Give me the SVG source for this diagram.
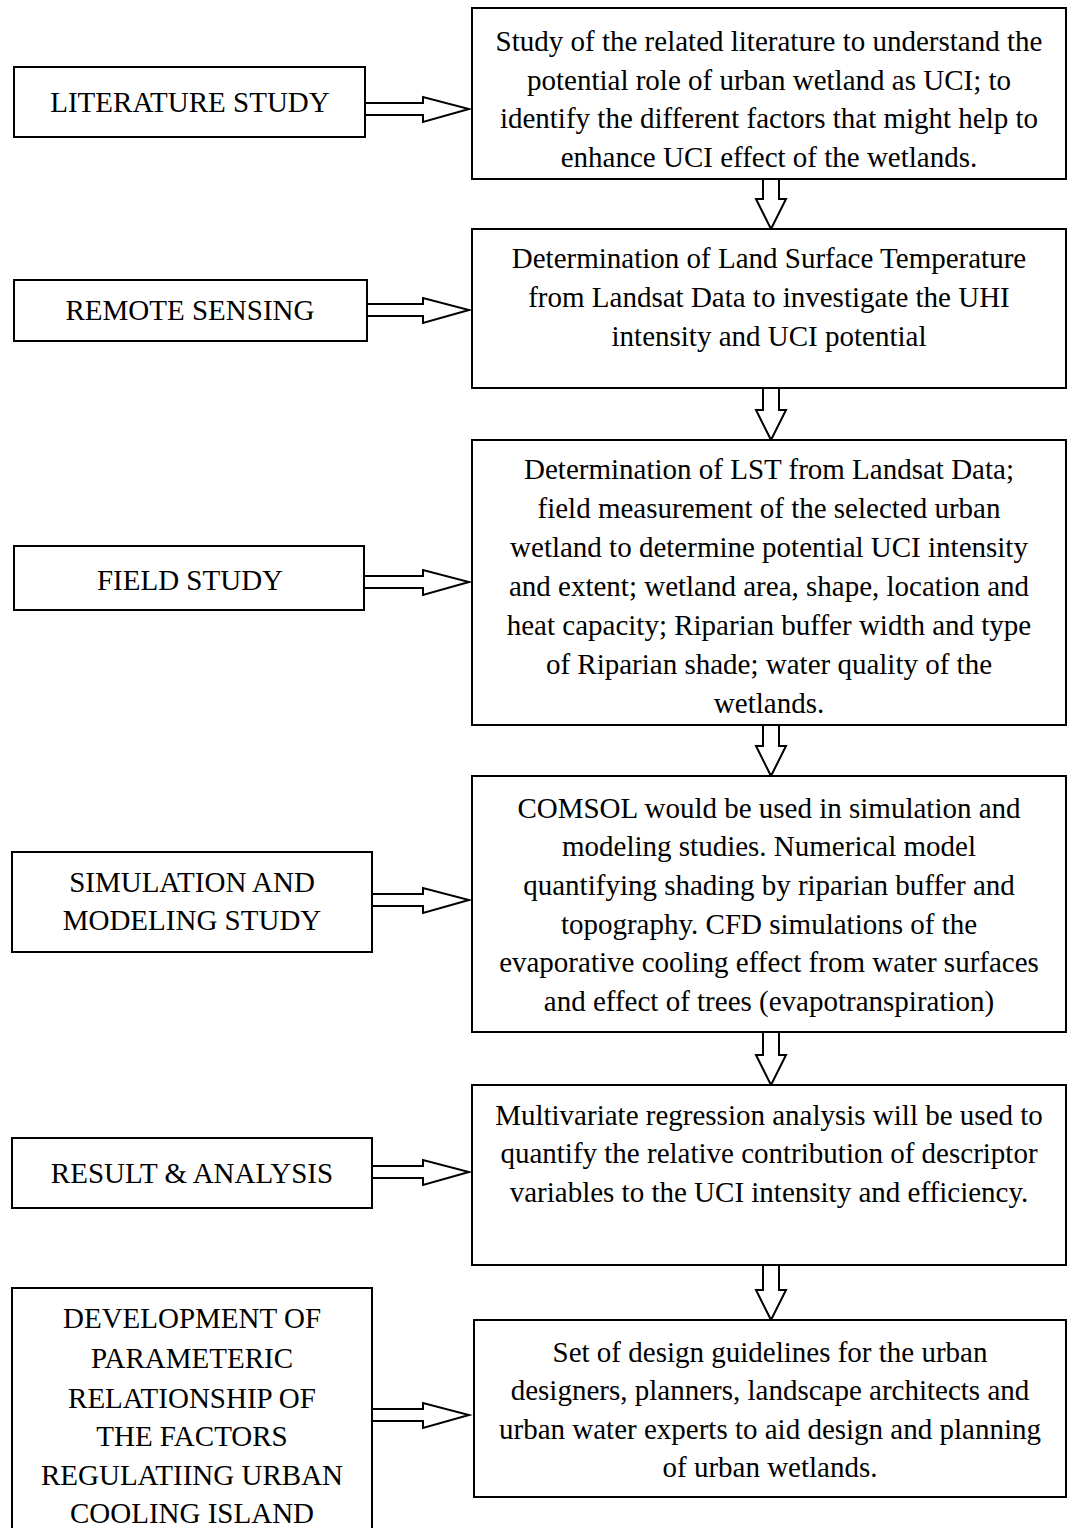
<svg xmlns="http://www.w3.org/2000/svg" width="1068" height="1528" viewBox="0 0 1068 1528">
<style>
.box{fill:#fff;stroke:#000;stroke-width:2}
.arr{fill:#fff;stroke:#000;stroke-width:2;stroke-linejoin:miter}
text{font-family:"Liberation Serif","Times New Roman",serif;font-size:29px;fill:#000;text-anchor:middle}
</style>
<rect width="1068" height="1528" fill="#fff"/>
<g id="connectors">
<polygon class="arr" points="365,103 423,103 423,97 469,109 423,122 423,115 365,115"/>
<polygon class="arr" points="367,304 423,304 423,298 469,310 423,323 423,316 367,316"/>
<polygon class="arr" points="364,576 423,576 423,570 469,582 423,595 423,588 364,588"/>
<polygon class="arr" points="372,894 423,894 423,888 469,900 423,913 423,906 372,906"/>
<polygon class="arr" points="372,1166 423,1166 423,1160 469,1172 423,1185 423,1178 372,1178"/>
<polygon class="arr" points="372,1409 423,1409 423,1403 469,1415 423,1428 423,1421 372,1421"/>
<polygon class="arr" points="763,179 763,199 756,199 771,229 786,199 779,199 779,179"/>
<polygon class="arr" points="763,388 763,410 756,410 771,440 786,410 779,410 779,388"/>
<polygon class="arr" points="763,725 763,746 756,746 771,776 786,746 779,746 779,725"/>
<polygon class="arr" points="763,1032 763,1055 756,1055 771,1085 786,1055 779,1055 779,1032"/>
<polygon class="arr" points="763,1265 763,1290 756,1290 771,1320 786,1290 779,1290 779,1265"/>
</g>
<g id="n1">
<rect class="box" x="472" y="8" width="594" height="171"/>
<text x="769" y="51">Study of the related literature to understand the</text>
<text x="769" y="90">potential role of urban wetland as UCI; to</text>
<text x="769" y="128">identify the different factors that might help to</text>
<text x="769" y="167">enhance UCI effect of the wetlands.</text>
</g>
<g id="l1">
<rect class="box" x="14" y="67" width="351" height="70"/>
<text x="190" y="112">LITERATURE STUDY</text>
</g>
<g id="n2">
<rect class="box" x="472" y="229" width="594" height="159"/>
<text x="769" y="268">Determination of Land Surface Temperature</text>
<text x="769" y="307">from Landsat Data to investigate the UHI</text>
<text x="769" y="346">intensity and UCI potential</text>
</g>
<g id="l2">
<rect class="box" x="14" y="280" width="353" height="61"/>
<text x="190" y="320">REMOTE SENSING</text>
</g>
<g id="n3">
<rect class="box" x="472" y="440" width="594" height="285"/>
<text x="769" y="479">Determination of LST from Landsat Data;</text>
<text x="769" y="518">field measurement of the selected urban</text>
<text x="769" y="557">wetland to determine potential UCI intensity</text>
<text x="769" y="596">and extent; wetland area, shape, location and</text>
<text x="769" y="635">heat capacity; Riparian buffer width and type</text>
<text x="769" y="674">of Riparian shade; water quality of the</text>
<text x="769" y="713">wetlands.</text>
</g>
<g id="l3">
<rect class="box" x="14" y="546" width="350" height="64"/>
<text x="190" y="590">FIELD STUDY</text>
</g>
<g id="n4">
<rect class="box" x="472" y="776" width="594" height="256"/>
<text x="769" y="818">COMSOL would be used in simulation and</text>
<text x="769" y="856">modeling studies. Numerical model</text>
<text x="769" y="895">quantifying shading by riparian buffer and</text>
<text x="769" y="934">topography. CFD simulations of the</text>
<text x="769" y="972">evaporative cooling effect from water surfaces</text>
<text x="769" y="1011">and effect of trees (evapotranspiration)</text>
</g>
<g id="l4">
<rect class="box" x="12" y="852" width="360" height="100"/>
<text x="192" y="892">SIMULATION AND</text>
<text x="192" y="930">MODELING STUDY</text>
</g>
<g id="n5">
<rect class="box" x="472" y="1085" width="594" height="180"/>
<text x="769" y="1125">Multivariate regression analysis will be used to</text>
<text x="769" y="1163">quantify the relative contribution of descriptor</text>
<text x="769" y="1202">variables to the UCI intensity and efficiency.</text>
</g>
<g id="l5">
<rect class="box" x="12" y="1138" width="360" height="70"/>
<text x="192" y="1183">RESULT &amp; ANALYSIS</text>
</g>
<g id="n6">
<rect class="box" x="474" y="1320" width="592" height="177"/>
<text x="770" y="1362">Set of design guidelines for the urban</text>
<text x="770" y="1400">designers, planners, landscape architects and</text>
<text x="770" y="1439">urban water experts to aid design and planning</text>
<text x="770" y="1477">of urban wetlands.</text>
</g>
<g id="l6">
<rect class="box" x="12" y="1288" width="360" height="260"/>
<text x="192" y="1328">DEVELOPMENT OF</text>
<text x="192" y="1368">PARAMETERIC</text>
<text x="192" y="1408">RELATIONSHIP OF</text>
<text x="192" y="1446">THE FACTORS</text>
<text x="192" y="1485">REGULATIING URBAN</text>
<text x="192" y="1523">COOLING ISLAND</text>
</g>
</svg>
